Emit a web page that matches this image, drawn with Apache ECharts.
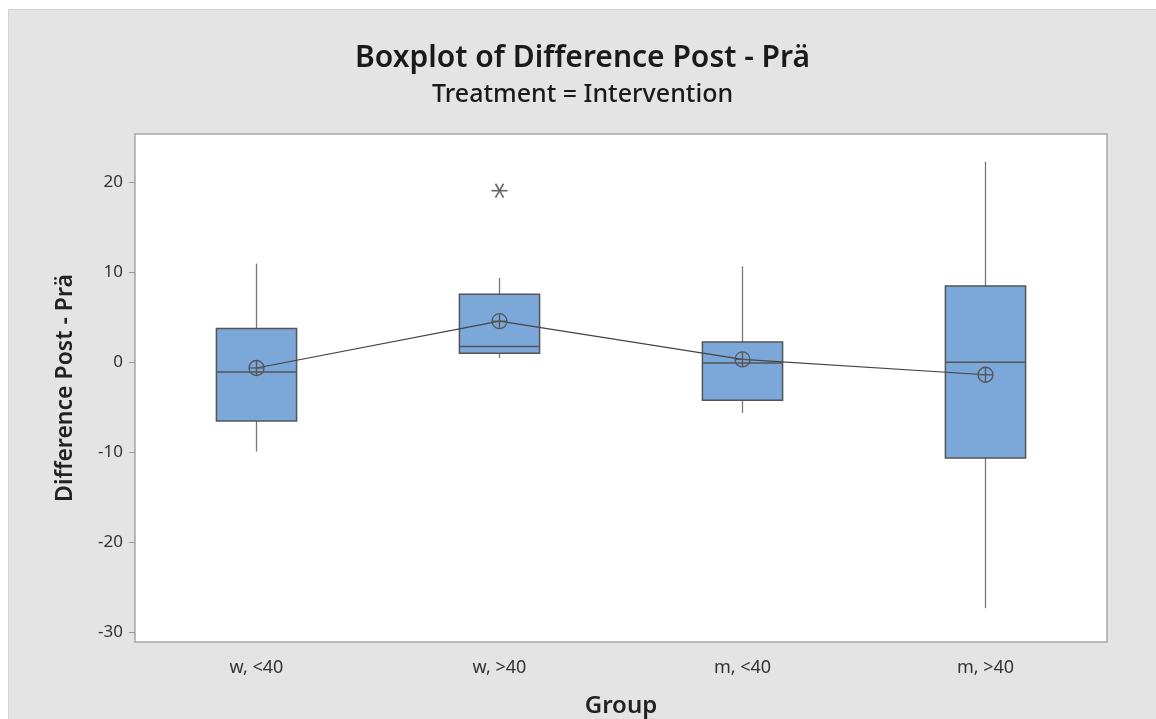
<!DOCTYPE html>
<html>
<head>
<meta charset="utf-8">
<script src="https://cdn.jsdelivr.net/npm/echarts@6/dist/echarts.min.js"></script>
<style>
  html, body { margin: 0; padding: 0; background: #fff; }
  #frame {
    position: absolute; left: 8px; top: 9px; width: 1148px; height: 710px;
    background: #e4e4e4; border-left: 1px solid #d6d6d6; border-top: 1px solid #d6d6d6;
    box-sizing: border-box;
  }
  #chart { width: 1147px; height: 709px; }
</style>
</head>
<body>
<div id="frame"><div id="chart"></div></div>
<script>
// groups on the x axis
const groups = ['w, <40', 'w, >40', 'm, <40', 'm, >40']
// [min whisker, Q1, median, Q3, max whisker]
const boxData = [
  [-9.9, -6.5, -1.05, 3.8, 11.0],
  [0.5, 1.05, 1.8, 7.6, 9.4],
  [-5.6, -4.2, -0.05, 2.3, 10.7],
  [-27.3, -10.6, 0.05, 8.5, 22.3],
]
// group means (circled-plus symbols, joined by a line)
const means = [-0.6, 4.6, 0.35, -1.35]
// outliers: [group index, value]
const outliers = [[1, 19.1]]
const yTicks = [-30, -20, -10, 0, 10, 20]

const font = '"Noto Sans", "Open Sans", sans-serif'
const ink = '#555'

const chart = echarts.init(document.getElementById('chart'))

// Minitab style box: no caps on the whiskers
const renderBox = (params, api) => {
  const x = api.value(0)
  const lo = api.coord([x, api.value(1)])
  const q1 = api.coord([x, api.value(2)])
  const md = api.coord([x, api.value(3)])
  const q3 = api.coord([x, api.value(4)])
  const hi = api.coord([x, api.value(5)])
  const w = api.size([1, 0])[0] * 0.33
  const cx = q1[0]
  const whisker = { stroke: '#777', lineWidth: 1.3 }
  const edge = { stroke: ink, lineWidth: 1.5 }
  return {
    type: 'group',
    children: [
      { type: 'line', shape: { x1: cx, y1: hi[1], x2: cx, y2: q3[1] }, style: whisker },
      { type: 'line', shape: { x1: cx, y1: q1[1], x2: cx, y2: lo[1] }, style: whisker },
      {
        type: 'rect',
        shape: { x: cx - w / 2, y: q3[1], width: w, height: q1[1] - q3[1] },
        style: { fill: '#7ba7d9', stroke: ink, lineWidth: 1.5 },
      },
      { type: 'line', shape: { x1: cx - w / 2, y1: md[1], x2: cx + w / 2, y2: md[1] }, style: edge },
    ],
  }
}

// circled plus for the mean
const renderMean = (params, api) => {
  const p = api.coord([api.value(0), api.value(1)])
  const r = 7.5
  const style = { stroke: ink, lineWidth: 1.3, fill: null }
  return {
    type: 'group',
    children: [
      { type: 'circle', shape: { cx: p[0], cy: p[1], r }, style },
      { type: 'line', shape: { x1: p[0] - r, y1: p[1], x2: p[0] + r, y2: p[1] }, style },
      { type: 'line', shape: { x1: p[0], y1: p[1] - r, x2: p[0], y2: p[1] + r }, style },
    ],
  }
}

// asterisk for the outliers
const renderStar = (params, api) => {
  const p = api.coord([api.value(0), api.value(1)])
  const r = 8
  const style = { stroke: '#666', lineWidth: 1.6 }
  const arms = [0, 60, 120].map((deg) => {
    const a = (deg * Math.PI) / 180
    const dx = r * Math.cos(a)
    const dy = r * Math.sin(a)
    return { type: 'line', shape: { x1: p[0] - dx, y1: p[1] - dy, x2: p[0] + dx, y2: p[1] + dy }, style }
  })
  return { type: 'group', children: arms }
}

const option = {
  backgroundColor: 'transparent',
  animation: false,
  title: [
    {
      text: 'Boxplot of Difference Post - Prä',
      left: 'center',
      top: 28,
      textStyle: { fontFamily: font, fontSize: 30, fontWeight: 600, color: '#1a1a1a' },
    },
    {
      text: 'Treatment = Intervention',
      left: 'center',
      top: 67,
      textStyle: { fontFamily: font, fontSize: 25, fontWeight: 500, color: '#1a1a1a' },
    },
  ],
  grid: {
    left: 126,
    top: 124,
    width: 972,
    height: 508,
    outerBoundsMode: 'none',
    containLabel: false,
    show: true,
    backgroundColor: '#fff',
    borderColor: '#a6a6a6',
    borderWidth: 1.5,
  },
  xAxis: {
    type: 'category',
    data: groups,
    boundaryGap: true,
    name: 'Group',
    nameLocation: 'middle',
    nameGap: 52,
    nameTextStyle: { fontFamily: font, fontSize: 24, fontWeight: 600, color: '#222' },
    axisLine: { show: false },
    axisTick: { alignWithLabel: true, length: 6, lineStyle: { color: '#999' } },
    axisLabel: { margin: 17, fontFamily: font, fontSize: 18, color: '#333' },
    splitLine: { show: false },
  },
  yAxis: {
    type: 'value',
    min: -31.05,
    max: 25.4,
    name: 'Difference Post - Prä',
    nameLocation: 'middle',
    nameGap: 58,
    nameTextStyle: { fontFamily: font, fontSize: 23, fontWeight: 600, color: '#222' },
    axisLine: { show: false },
    axisTick: { show: true, length: 6, customValues: yTicks, lineStyle: { color: '#999' } },
    axisLabel: { margin: 12, fontFamily: font, fontSize: 17, color: '#333', customValues: yTicks },
    splitLine: { show: false },
  },
  series: [
    {
      type: 'custom',
      renderItem: renderBox,
      data: boxData.map((b, i) => [i, ...b]),
      encode: { x: 0, y: [1, 2, 3, 4, 5] },
      z: 2,
    },
    {
      type: 'line',
      data: means,
      symbol: 'none',
      lineStyle: { color: '#444', width: 1.2 },
      z: 3,
    },
    {
      type: 'custom',
      renderItem: renderMean,
      data: means.map((m, i) => [i, m]),
      z: 4,
    },
    {
      type: 'custom',
      renderItem: renderStar,
      data: outliers,
      z: 4,
    },
  ],
}

chart.setOption(option)
</script>
</body>
</html>
